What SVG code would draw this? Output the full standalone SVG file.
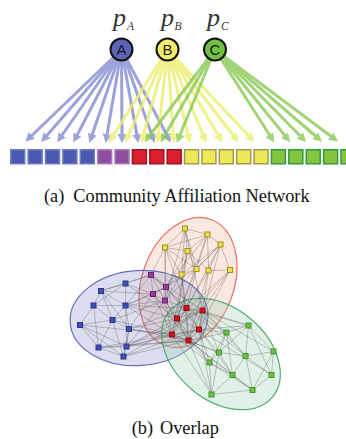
<svg xmlns="http://www.w3.org/2000/svg" width="346" height="439" viewBox="0 0 346 439">
<style>
.cap{font-family:"Liberation Serif","Times New Roman",serif;font-size:18.3px;fill:#111}
.pl{font-family:"Liberation Serif","Times New Roman",serif;font-style:italic;font-size:26px;fill:#333}
.ps{font-family:"Liberation Serif","Times New Roman",serif;font-style:italic;font-size:11.5px;fill:#333}
.cl{font-family:"Liberation Sans",Arial,sans-serif;font-size:15px;fill:#1a1a1a;text-anchor:middle}
.circ{stroke:#111;stroke-width:2}
.ab line{stroke:#7f8ad0;stroke-width:3;marker-end:url(#hb)}
.ay line{stroke:#eeee6e;stroke-width:3;marker-end:url(#hy)}
.ag line{stroke:#86c852;stroke-width:3;marker-end:url(#hg)}
.sq{stroke-width:1.5}
.sb{fill:#4a5ab0;stroke:#6e7cc4}
.sp{fill:#8e4fa0;stroke:#a97cbc}
.sr{fill:#dc1f2d;stroke:#a01422}
.sy{fill:#f0e858;stroke:#a09a52}
.sg{fill:#86c43e;stroke:#2f9a40}
.e{stroke:#4a4a4a;stroke-opacity:.45;stroke-width:.7}
.n{stroke-width:1}
.ny{fill:#f2e040;stroke:#a09030}
.np{fill:#a03a9a;stroke:#702070}
.nr{fill:#d8101e;stroke:#901018}
.nb{fill:#4050b0;stroke:#283890}
.ng{fill:#70c040;stroke:#3a9a30}
</style>
<defs>
<marker id="hb" markerUnits="userSpaceOnUse" markerWidth="9" markerHeight="9" viewBox="0 0 10 10" refX="5.5" refY="5" orient="auto"><path d="M0,0 L10,5 L0,10 z" fill="#7f8ad0"/></marker>
<marker id="hy" markerUnits="userSpaceOnUse" markerWidth="9" markerHeight="9" viewBox="0 0 10 10" refX="5.5" refY="5" orient="auto"><path d="M0,0 L10,5 L0,10 z" fill="#eeee6e"/></marker>
<marker id="hg" markerUnits="userSpaceOnUse" markerWidth="9" markerHeight="9" viewBox="0 0 10 10" refX="5.5" refY="5" orient="auto"><path d="M0,0 L10,5 L0,10 z" fill="#86c852"/></marker>
</defs>
<rect width="346" height="439" fill="#fff"/>

<!-- (a) affiliation network -->
<g id="arrows">
<g class="ab" opacity="0.78">
<line x1="121.5" y1="49.5" x2="28.2" y2="139"/>
<line x1="121.5" y1="49.5" x2="43.8" y2="139"/>
<line x1="121.5" y1="49.5" x2="59.4" y2="139"/>
<line x1="121.5" y1="49.5" x2="75.1" y2="139"/>
<line x1="121.5" y1="49.5" x2="90.7" y2="139"/>
<line x1="121.5" y1="49.5" x2="106.3" y2="139"/>
<line x1="121.5" y1="49.5" x2="122" y2="139"/>
<line x1="121.5" y1="49.5" x2="137.6" y2="139"/>
<line x1="121.5" y1="49.5" x2="153.2" y2="139"/>
<line x1="121.5" y1="49.5" x2="168.9" y2="139"/>
</g>
<g class="ay" opacity="0.8">
<line x1="167.5" y1="49.5" x2="111" y2="139"/>
<line x1="167.5" y1="49.5" x2="126.6" y2="139"/>
<line x1="167.5" y1="49.5" x2="142.2" y2="139"/>
<line x1="167.5" y1="49.5" x2="157.9" y2="139"/>
<line x1="167.5" y1="49.5" x2="173.5" y2="139"/>
<line x1="167.5" y1="49.5" x2="189.1" y2="139"/>
<line x1="167.5" y1="49.5" x2="204.8" y2="139"/>
<line x1="167.5" y1="49.5" x2="220.4" y2="139"/>
<line x1="167.5" y1="49.5" x2="236" y2="139"/>
<line x1="167.5" y1="49.5" x2="251.7" y2="139"/>
</g>
<g class="ag" opacity="0.78">
<line x1="215" y1="49.5" x2="147" y2="139"/>
<line x1="215" y1="49.5" x2="162.6" y2="139"/>
<line x1="215" y1="49.5" x2="178.3" y2="139"/>
<line x1="215" y1="49.5" x2="272.1" y2="139"/>
<line x1="215" y1="49.5" x2="287.7" y2="139"/>
<line x1="215" y1="49.5" x2="303.3" y2="139"/>
<line x1="215" y1="49.5" x2="319" y2="139"/>
<line x1="215" y1="49.5" x2="334.6" y2="139"/>
</g>
</g>

<g id="nodeA"><circle class="circ" cx="121.5" cy="49.5" r="11" fill="#5a64b8"/><text class="cl" x="121.5" y="55">A</text></g>
<g id="nodeB"><circle class="circ" cx="167.5" cy="49.5" r="11" fill="#f2ec6a"/><text class="cl" x="167.5" y="55">B</text></g>
<g id="nodeC"><circle class="circ" cx="215" cy="49.5" r="11" fill="#72c043"/><text class="cl" x="215" y="55">C</text></g>
<g id="labelA"><text class="pl" x="113" y="26">p</text><text class="ps" x="127" y="30">A</text></g>
<g id="labelB"><text class="pl" x="161" y="26">p</text><text class="ps" x="174.5" y="30">B</text></g>
<g id="labelC"><text class="pl" x="207" y="26">p</text><text class="ps" x="221" y="30">C</text></g>

<g id="members">
<rect class="sq sb" x="10.75" y="149.75" width="14" height="14"/>
<rect class="sq sb" x="28.13" y="149.75" width="14" height="14"/>
<rect class="sq sb" x="45.51" y="149.75" width="14" height="14"/>
<rect class="sq sb" x="62.89" y="149.75" width="14" height="14"/>
<rect class="sq sb" x="80.27" y="149.75" width="14" height="14"/>
<rect class="sq sp" x="97.65" y="149.75" width="14" height="14"/>
<rect class="sq sp" x="115.03" y="149.75" width="14" height="14"/>
<rect class="sq sr" x="132.41" y="149.75" width="14" height="14"/>
<rect class="sq sr" x="149.79" y="149.75" width="14" height="14"/>
<rect class="sq sr" x="167.17" y="149.75" width="14" height="14"/>
<rect class="sq sy" x="184.55" y="149.75" width="14" height="14"/>
<rect class="sq sy" x="201.93" y="149.75" width="14" height="14"/>
<rect class="sq sy" x="219.31" y="149.75" width="14" height="14"/>
<rect class="sq sy" x="236.69" y="149.75" width="14" height="14"/>
<rect class="sq sy" x="254.07" y="149.75" width="14" height="14"/>
<rect class="sq sg" x="271.45" y="149.75" width="14" height="14"/>
<rect class="sq sg" x="288.83" y="149.75" width="14" height="14"/>
<rect class="sq sg" x="306.21" y="149.75" width="14" height="14"/>
<rect class="sq sg" x="323.59" y="149.75" width="14" height="14"/>
<rect class="sq sg" x="340.97" y="149.75" width="14" height="14"/>
</g>

<text class="cap" x="44" y="202">(a)<tspan x="73.3">Community Affiliation Network</tspan></text>

<!-- (b) overlap -->
<g id="communities">
<ellipse cx="188" cy="282.5" rx="46" ry="67" transform="rotate(20 188 282.5)" fill="#f4b8a0" fill-opacity="0.32" stroke="#f07060" stroke-width="1.2"/>
<ellipse cx="139" cy="318" rx="69" ry="47.5" transform="rotate(-4 139 318)" fill="#8088c8" fill-opacity="0.28" stroke="#6070c0" stroke-width="1.2"/>
<ellipse cx="221" cy="354" rx="67" ry="46" transform="rotate(40 221 354)" fill="#a0d0b0" fill-opacity="0.3" stroke="#50b070" stroke-width="1.2"/>
</g>

<g id="edges" class="e">
<line x1="185" y1="228.5" x2="207.5" y2="234.5"/>
<line x1="185" y1="228.5" x2="165" y2="247.5"/>
<line x1="185" y1="228.5" x2="187.5" y2="251"/>
<line x1="185" y1="228.5" x2="196.5" y2="269"/>
<line x1="207.5" y1="234.5" x2="165" y2="247.5"/>
<line x1="207.5" y1="234.5" x2="187.5" y2="251"/>
<line x1="207.5" y1="234.5" x2="220.5" y2="244.5"/>
<line x1="207.5" y1="234.5" x2="196.5" y2="269"/>
<line x1="207.5" y1="234.5" x2="208.5" y2="270.5"/>
<line x1="165" y1="247.5" x2="187.5" y2="251"/>
<line x1="165" y1="247.5" x2="181.5" y2="274.5"/>
<line x1="187.5" y1="251" x2="196.5" y2="269"/>
<line x1="187.5" y1="251" x2="181.5" y2="274.5"/>
<line x1="187.5" y1="251" x2="208.5" y2="270.5"/>
<line x1="220.5" y1="244.5" x2="208.5" y2="270.5"/>
<line x1="220.5" y1="244.5" x2="230" y2="270"/>
<line x1="220.5" y1="244.5" x2="196.5" y2="269"/>
<line x1="196.5" y1="269" x2="181.5" y2="274.5"/>
<line x1="208.5" y1="270.5" x2="230" y2="270"/>
<line x1="220.5" y1="244.5" x2="181.5" y2="274.5"/>
<line x1="185" y1="228.5" x2="181.5" y2="274.5"/>
<line x1="165" y1="247.5" x2="196.5" y2="269"/>
<line x1="165" y1="247.5" x2="151" y2="275"/>
<line x1="165" y1="247.5" x2="166" y2="287"/>
<line x1="165" y1="247.5" x2="165" y2="300.5"/>
<line x1="187.5" y1="251" x2="166" y2="287"/>
<line x1="181.5" y1="274.5" x2="166" y2="287"/>
<line x1="181.5" y1="274.5" x2="165" y2="300.5"/>
<line x1="196.5" y1="269" x2="186.5" y2="308"/>
<line x1="196.5" y1="269" x2="177" y2="318.5"/>
<line x1="208.5" y1="270.5" x2="202.5" y2="310.5"/>
<line x1="208.5" y1="270.5" x2="186.5" y2="308"/>
<line x1="230" y1="270" x2="202.5" y2="310.5"/>
<line x1="230" y1="270" x2="199" y2="329.5"/>
<line x1="230" y1="270" x2="172" y2="334.5"/>
<line x1="220.5" y1="244.5" x2="186.5" y2="308"/>
<line x1="220.5" y1="244.5" x2="199" y2="329.5"/>
<line x1="207.5" y1="234.5" x2="177" y2="318.5"/>
<line x1="181.5" y1="274.5" x2="186.5" y2="308"/>
<line x1="187.5" y1="251" x2="172" y2="334.5"/>
<line x1="185" y1="228.5" x2="165" y2="300.5"/>
<line x1="196.5" y1="269" x2="153" y2="294"/>
<line x1="208.5" y1="270.5" x2="188.5" y2="340.5"/>
<line x1="230" y1="270" x2="177" y2="318.5"/>
<line x1="181.5" y1="274.5" x2="188.5" y2="340.5"/>
<line x1="187.5" y1="251" x2="177" y2="318.5"/>
<line x1="220.5" y1="244.5" x2="165" y2="300.5"/>
<line x1="165" y1="247.5" x2="186.5" y2="308"/>
<line x1="207.5" y1="234.5" x2="166" y2="287"/>
<line x1="185" y1="228.5" x2="202.5" y2="310.5"/>
<line x1="151" y1="275" x2="166" y2="287"/>
<line x1="151" y1="275" x2="153" y2="294"/>
<line x1="166" y1="287" x2="153" y2="294"/>
<line x1="166" y1="287" x2="165" y2="300.5"/>
<line x1="153" y1="294" x2="165" y2="300.5"/>
<line x1="151" y1="275" x2="165" y2="300.5"/>
<line x1="151" y1="275" x2="125.5" y2="283.5"/>
<line x1="151" y1="275" x2="101" y2="291"/>
<line x1="153" y1="294" x2="125.5" y2="283.5"/>
<line x1="153" y1="294" x2="125.5" y2="305.5"/>
<line x1="165" y1="300.5" x2="125.5" y2="305.5"/>
<line x1="153" y1="294" x2="101" y2="291"/>
<line x1="166" y1="287" x2="125.5" y2="305.5"/>
<line x1="165" y1="300.5" x2="112.5" y2="320"/>
<line x1="153" y1="294" x2="129" y2="329"/>
<line x1="165" y1="300.5" x2="126.5" y2="346.5"/>
<line x1="151" y1="275" x2="125.5" y2="305.5"/>
<line x1="166" y1="287" x2="186.5" y2="308"/>
<line x1="166" y1="287" x2="177" y2="318.5"/>
<line x1="165" y1="300.5" x2="186.5" y2="308"/>
<line x1="165" y1="300.5" x2="177" y2="318.5"/>
<line x1="153" y1="294" x2="177" y2="318.5"/>
<line x1="165" y1="300.5" x2="172" y2="334.5"/>
<line x1="151" y1="275" x2="186.5" y2="308"/>
<line x1="153" y1="294" x2="172" y2="334.5"/>
<line x1="166" y1="287" x2="199" y2="329.5"/>
<line x1="165" y1="300.5" x2="188.5" y2="340.5"/>
<line x1="151" y1="275" x2="202.5" y2="310.5"/>
<line x1="153" y1="294" x2="188.5" y2="340.5"/>
<line x1="125.5" y1="283.5" x2="101" y2="291"/>
<line x1="125.5" y1="283.5" x2="125.5" y2="305.5"/>
<line x1="101" y1="291" x2="93.5" y2="305.5"/>
<line x1="101" y1="291" x2="125.5" y2="305.5"/>
<line x1="93.5" y1="305.5" x2="125.5" y2="305.5"/>
<line x1="93.5" y1="305.5" x2="112.5" y2="320"/>
<line x1="93.5" y1="305.5" x2="80" y2="325"/>
<line x1="125.5" y1="305.5" x2="112.5" y2="320"/>
<line x1="125.5" y1="305.5" x2="129" y2="329"/>
<line x1="112.5" y1="320" x2="80" y2="325"/>
<line x1="112.5" y1="320" x2="129" y2="329"/>
<line x1="112.5" y1="320" x2="98.5" y2="347.5"/>
<line x1="80" y1="325" x2="98.5" y2="347.5"/>
<line x1="129" y1="329" x2="126.5" y2="346.5"/>
<line x1="98.5" y1="347.5" x2="126.5" y2="346.5"/>
<line x1="98.5" y1="347.5" x2="123.5" y2="356.5"/>
<line x1="126.5" y1="346.5" x2="123.5" y2="356.5"/>
<line x1="129" y1="329" x2="123.5" y2="356.5"/>
<line x1="80" y1="325" x2="126.5" y2="346.5"/>
<line x1="101" y1="291" x2="112.5" y2="320"/>
<line x1="125.5" y1="283.5" x2="93.5" y2="305.5"/>
<line x1="125.5" y1="305.5" x2="126.5" y2="346.5"/>
<line x1="80" y1="325" x2="123.5" y2="356.5"/>
<line x1="112.5" y1="320" x2="123.5" y2="356.5"/>
<line x1="101" y1="291" x2="129" y2="329"/>
<line x1="93.5" y1="305.5" x2="98.5" y2="347.5"/>
<line x1="125.5" y1="305.5" x2="177" y2="318.5"/>
<line x1="129" y1="329" x2="172" y2="334.5"/>
<line x1="129" y1="329" x2="177" y2="318.5"/>
<line x1="126.5" y1="346.5" x2="188.5" y2="340.5"/>
<line x1="126.5" y1="346.5" x2="199" y2="329.5"/>
<line x1="123.5" y1="356.5" x2="188.5" y2="340.5"/>
<line x1="98.5" y1="347.5" x2="172" y2="334.5"/>
<line x1="129" y1="329" x2="186.5" y2="308"/>
<line x1="126.5" y1="346.5" x2="172" y2="334.5"/>
<line x1="123.5" y1="356.5" x2="199" y2="329.5"/>
<line x1="125.5" y1="305.5" x2="186.5" y2="308"/>
<line x1="125.5" y1="283.5" x2="177" y2="318.5"/>
<line x1="112.5" y1="320" x2="172" y2="334.5"/>
<line x1="98.5" y1="347.5" x2="188.5" y2="340.5"/>
<line x1="129" y1="329" x2="188.5" y2="340.5"/>
<line x1="126.5" y1="346.5" x2="177" y2="318.5"/>
<line x1="123.5" y1="356.5" x2="202.5" y2="310.5"/>
<line x1="125.5" y1="305.5" x2="172" y2="334.5"/>
<line x1="80" y1="325" x2="172" y2="334.5"/>
<line x1="126.5" y1="346.5" x2="202.5" y2="310.5"/>
<line x1="186.5" y1="308" x2="202.5" y2="310.5"/>
<line x1="186.5" y1="308" x2="177" y2="318.5"/>
<line x1="186.5" y1="308" x2="199" y2="329.5"/>
<line x1="202.5" y1="310.5" x2="199" y2="329.5"/>
<line x1="177" y1="318.5" x2="199" y2="329.5"/>
<line x1="177" y1="318.5" x2="172" y2="334.5"/>
<line x1="199" y1="329.5" x2="188.5" y2="340.5"/>
<line x1="172" y1="334.5" x2="188.5" y2="340.5"/>
<line x1="177" y1="318.5" x2="188.5" y2="340.5"/>
<line x1="186.5" y1="308" x2="172" y2="334.5"/>
<line x1="202.5" y1="310.5" x2="177" y2="318.5"/>
<line x1="202.5" y1="310.5" x2="188.5" y2="340.5"/>
<line x1="199" y1="329.5" x2="172" y2="334.5"/>
<line x1="186.5" y1="308" x2="188.5" y2="340.5"/>
<line x1="248.5" y1="325.5" x2="226.5" y2="332.5"/>
<line x1="248.5" y1="325.5" x2="245.5" y2="356"/>
<line x1="248.5" y1="325.5" x2="273.5" y2="351.5"/>
<line x1="226.5" y1="332.5" x2="219" y2="352.5"/>
<line x1="226.5" y1="332.5" x2="245.5" y2="356"/>
<line x1="226.5" y1="332.5" x2="209.5" y2="362.5"/>
<line x1="219" y1="352.5" x2="245.5" y2="356"/>
<line x1="219" y1="352.5" x2="209.5" y2="362.5"/>
<line x1="219" y1="352.5" x2="232.5" y2="375"/>
<line x1="245.5" y1="356" x2="273.5" y2="351.5"/>
<line x1="245.5" y1="356" x2="232.5" y2="375"/>
<line x1="245.5" y1="356" x2="271.5" y2="375"/>
<line x1="273.5" y1="351.5" x2="271.5" y2="375"/>
<line x1="273.5" y1="351.5" x2="252.5" y2="390"/>
<line x1="209.5" y1="362.5" x2="232.5" y2="375"/>
<line x1="209.5" y1="362.5" x2="211.5" y2="394.5"/>
<line x1="232.5" y1="375" x2="211.5" y2="394.5"/>
<line x1="232.5" y1="375" x2="252.5" y2="390"/>
<line x1="271.5" y1="375" x2="252.5" y2="390"/>
<line x1="211.5" y1="394.5" x2="252.5" y2="390"/>
<line x1="219" y1="352.5" x2="211.5" y2="394.5"/>
<line x1="248.5" y1="325.5" x2="219" y2="352.5"/>
<line x1="226.5" y1="332.5" x2="232.5" y2="375"/>
<line x1="248.5" y1="325.5" x2="271.5" y2="375"/>
<line x1="245.5" y1="356" x2="252.5" y2="390"/>
<line x1="209.5" y1="362.5" x2="252.5" y2="390"/>
<line x1="248.5" y1="325.5" x2="202.5" y2="310.5"/>
<line x1="226.5" y1="332.5" x2="202.5" y2="310.5"/>
<line x1="226.5" y1="332.5" x2="199" y2="329.5"/>
<line x1="219" y1="352.5" x2="199" y2="329.5"/>
<line x1="219" y1="352.5" x2="188.5" y2="340.5"/>
<line x1="209.5" y1="362.5" x2="188.5" y2="340.5"/>
<line x1="209.5" y1="362.5" x2="172" y2="334.5"/>
<line x1="211.5" y1="394.5" x2="172" y2="334.5"/>
<line x1="232.5" y1="375" x2="188.5" y2="340.5"/>
<line x1="245.5" y1="356" x2="186.5" y2="308"/>
<line x1="273.5" y1="351.5" x2="202.5" y2="310.5"/>
<line x1="271.5" y1="375" x2="199" y2="329.5"/>
<line x1="252.5" y1="390" x2="188.5" y2="340.5"/>
<line x1="209.5" y1="362.5" x2="177" y2="318.5"/>
<line x1="248.5" y1="325.5" x2="199" y2="329.5"/>
<line x1="226.5" y1="332.5" x2="186.5" y2="308"/>
<line x1="219" y1="352.5" x2="172" y2="334.5"/>
<line x1="232.5" y1="375" x2="199" y2="329.5"/>
<line x1="211.5" y1="394.5" x2="188.5" y2="340.5"/>
<line x1="245.5" y1="356" x2="202.5" y2="310.5"/>
<line x1="209.5" y1="362.5" x2="199" y2="329.5"/>
<line x1="219" y1="352.5" x2="202.5" y2="310.5"/>
<line x1="248.5" y1="325.5" x2="186.5" y2="308"/>
<line x1="226.5" y1="332.5" x2="188.5" y2="340.5"/>
<line x1="211.5" y1="394.5" x2="199" y2="329.5"/>
</g>

<g id="yellow-nodes">
<rect id="y1" class="n ny" x="182.5" y="226" width="5" height="5"/>
<rect id="y2" class="n ny" x="205" y="232" width="5" height="5"/>
<rect id="y3" class="n ny" x="162.5" y="245" width="5" height="5"/>
<rect id="y4" class="n ny" x="185" y="248.5" width="5" height="5"/>
<rect id="y5" class="n ny" x="218" y="242" width="5" height="5"/>
<rect id="y6" class="n ny" x="194" y="266.5" width="5" height="5"/>
<rect id="y7" class="n ny" x="206" y="268" width="5" height="5"/>
<rect id="y8" class="n ny" x="227.5" y="267.5" width="5" height="5"/>
<rect id="y9" class="n ny" x="179" y="272" width="5" height="5"/>
</g>
<g id="purple-nodes">
<rect id="p1" class="n np" x="148.5" y="272.5" width="5" height="5"/>
<rect id="p2" class="n np" x="163.5" y="284.5" width="5" height="5"/>
<rect id="p3" class="n np" x="150.5" y="291.5" width="5" height="5"/>
<rect id="p4" class="n np" x="162.5" y="298" width="5" height="5"/>
</g>
<g id="red-nodes">
<rect id="r1" class="n nr" x="184" y="305.5" width="5" height="5"/>
<rect id="r2" class="n nr" x="200" y="308" width="5" height="5"/>
<rect id="r3" class="n nr" x="174.5" y="316" width="5" height="5"/>
<rect id="r4" class="n nr" x="196.5" y="327" width="5" height="5"/>
<rect id="r5" class="n nr" x="169.5" y="332" width="5" height="5"/>
<rect id="r6" class="n nr" x="186" y="338" width="5" height="5"/>
</g>
<g id="blue-nodes">
<rect id="b1" class="n nb" x="123" y="281" width="5" height="5"/>
<rect id="b2" class="n nb" x="98.5" y="288.5" width="5" height="5"/>
<rect id="b3" class="n nb" x="91" y="303" width="5" height="5"/>
<rect id="b4" class="n nb" x="123" y="303" width="5" height="5"/>
<rect id="b5" class="n nb" x="110" y="317.5" width="5" height="5"/>
<rect id="b6" class="n nb" x="77.5" y="322.5" width="5" height="5"/>
<rect id="b7" class="n nb" x="126.5" y="326.5" width="5" height="5"/>
<rect id="b8" class="n nb" x="96" y="345" width="5" height="5"/>
<rect id="b9" class="n nb" x="124" y="344" width="5" height="5"/>
<rect id="b10" class="n nb" x="121" y="354" width="5" height="5"/>
</g>
<g id="green-nodes">
<rect id="g1" class="n ng" x="246" y="323" width="5" height="5"/>
<rect id="g2" class="n ng" x="224" y="330" width="5" height="5"/>
<rect id="g3" class="n ng" x="216.5" y="350" width="5" height="5"/>
<rect id="g4" class="n ng" x="243" y="353.5" width="5" height="5"/>
<rect id="g5" class="n ng" x="271" y="349" width="5" height="5"/>
<rect id="g6" class="n ng" x="207" y="360" width="5" height="5"/>
<rect id="g7" class="n ng" x="230" y="372.5" width="5" height="5"/>
<rect id="g8" class="n ng" x="269" y="372.5" width="5" height="5"/>
<rect id="g9" class="n ng" x="209" y="392" width="5" height="5"/>
<rect id="g10" class="n ng" x="250" y="387.5" width="5" height="5"/>
</g>

<text class="cap" x="131.7" y="434">(b)<tspan x="160">Overlap</tspan></text>
</svg>
